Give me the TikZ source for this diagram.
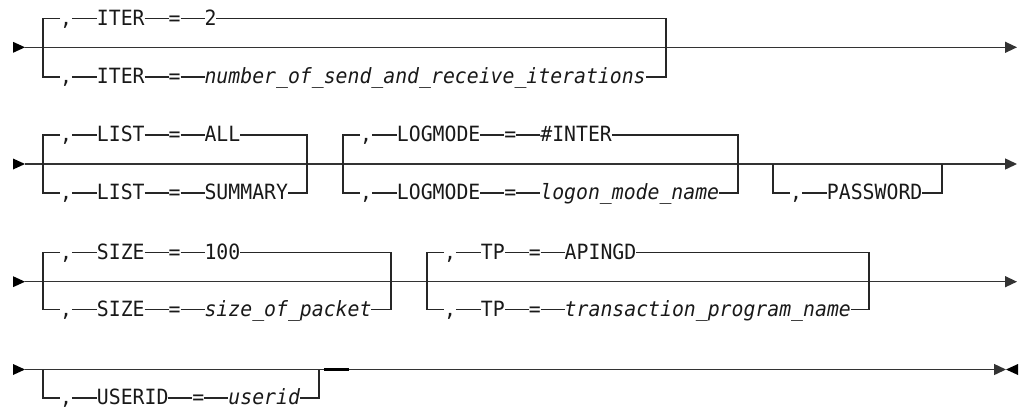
\documentclass[tikz,border=0pt]{standalone}
\usepackage{fontspec}
\newfontfamily\dmono{DejaVu Sans Mono}[FakeStretch=0.943]
\usetikzlibrary{positioning,arrows.meta}
\tikzset{
  tok/.style={inner xsep=0pt, inner ysep=0pt, outer sep=0pt, text height=13.4pt, text depth=0pt, font=\dmono\fontsize{21pt}{23pt}\selectfont, text=black!90},
  ln/.style={draw=black!85, line width=1.1pt},
  mainln/.style={draw=black!80, line width=1.4pt},
  endtip/.style={-{Triangle[length=12pt,width=11pt]}},
}
% branch: name, left x, y, keyword, value
\newcommand{\rrbranch}[5]{%
  \coordinate (#1-l) at (#2,#3);
  \node[tok] (#1-c) at (#2+23,#3) {,};
  \node[tok, right=25pt of #1-c] (#1-k) {#4};
  \node[tok, right=24pt of #1-k] (#1-e) {=};
  \node[tok, right=24pt of #1-e] (#1-v) {#5};
  \draw[ln] (#1-c) -- (#1-k) (#1-k) -- (#1-e) (#1-e) -- (#1-v);
}
% keyword-only branch: name, left x, y, keyword
\newcommand{\rrkbranch}[4]{%
  \coordinate (#1-l) at (#2,#3);
  \node[tok] (#1-c) at (#2+23,#3) {,};
  \node[tok, right=25pt of #1-c] (#1-k) {#4};
  \draw[ln] (#1-c) -- (#1-k);
}
\begin{document}
\begin{tikzpicture}[x=1pt,y=-1pt]
\useasboundingbox (0,0) rectangle (1024,410);

% ---------- Row 1 ----------
\coordinate (s1) at (25,47.3);
\coordinate (e1) at (1017,47.3);
\fill[black] (s1) -- ++(-12,-5.5) -- ++(0,11) -- cycle;
\draw[mainln,endtip] (s1) -- (e1);
\rrbranch{it1}{43}{18.5}{ITER}{2}
\rrbranch{it2}{43}{77}{ITER}{\itshape number\_of\_send\_and\_receive\_iterations}
\coordinate (it1-r) at (666,18.5);
\coordinate (it2-r) at (666,77);
\draw[ln] (it1-c) -- (it1-l) -- (it2-l) -- (it2-c);
\draw[ln] (it1-v) -- (it1-r) -- (it2-r) -- (it2-v);

% ---------- Row 2 ----------
\coordinate (s2) at (25,164);
\coordinate (e2) at (1017,164);
\fill[black] (s2) -- ++(-12,-5.5) -- ++(0,11) -- cycle;
\draw[mainln,endtip] (s2) -- (e2);
\rrbranch{li1}{43}{135}{LIST}{ALL}
\rrbranch{li2}{43}{193}{LIST}{SUMMARY}
\coordinate (li1-r) at (307,135);
\coordinate (li2-r) at (307,193);
\draw[ln] (li1-c) -- (li1-l) -- (li2-l) -- (li2-c);
\draw[ln] (li1-v) -- (li1-r) -- (li2-r) -- (li2-v);

\rrbranch{lm1}{343}{135}{LOGMODE}{\#INTER}
\rrbranch{lm2}{343}{193}{LOGMODE}{\itshape logon\_mode\_name}
\coordinate (lm1-r) at (738,135);
\coordinate (lm2-r) at (738,193);
\draw[ln] (lm1-c) -- (lm1-l) -- (lm2-l) -- (lm2-c);
\draw[ln] (lm1-v) -- (lm1-r) -- (lm2-r) -- (lm2-v);

\rrkbranch{pw}{773}{193}{PASSWORD}
\coordinate (pw-ml) at (773,164);
\coordinate (pw-mr) at (942,164);
\coordinate (pw-r) at (942,193);
\draw[ln] (pw-ml) -- (pw-l) -- (pw-c);
\draw[ln] (pw-k) -- (pw-r) -- (pw-mr);

% ---------- Row 3 ----------
\coordinate (s3) at (25,281.7);
\coordinate (e3) at (1017,281.7);
\fill[black] (s3) -- ++(-12,-5.5) -- ++(0,11) -- cycle;
\draw[mainln,endtip] (s3) -- (e3);
\rrbranch{sz1}{43}{252.3}{SIZE}{100}
\rrbranch{sz2}{43}{309.3}{SIZE}{\itshape size\_of\_packet}
\coordinate (sz1-r) at (391,252.3);
\coordinate (sz2-r) at (391,309.3);
\draw[ln] (sz1-c) -- (sz1-l) -- (sz2-l) -- (sz2-c);
\draw[ln] (sz1-v) -- (sz1-r) -- (sz2-r) -- (sz2-v);

\rrbranch{tp1}{427}{252.3}{TP}{APINGD}
\rrbranch{tp2}{427}{309.3}{TP}{\itshape transaction\_program\_name}
\coordinate (tp1-r) at (869,252.3);
\coordinate (tp2-r) at (869,309.3);
\draw[ln] (tp1-c) -- (tp1-l) -- (tp2-l) -- (tp2-c);
\draw[ln] (tp1-v) -- (tp1-r) -- (tp2-r) -- (tp2-v);

% ---------- Row 4 ----------
\coordinate (s4) at (25,369.5);
\coordinate (e4) at (1006,369.5);
\fill[black] (s4) -- ++(-12,-5.5) -- ++(0,11) -- cycle;
\draw[mainln,endtip] (s4) -- (e4);
\fill[black] (e4) -- ++(12,-5.5) -- ++(0,11) -- cycle;
\rrbranch{us}{43}{398}{USERID}{\itshape userid}
\coordinate (us-ml) at (43,369.5);
\coordinate (us-mr) at (319,369.5);
\coordinate (us-r) at (319,398);
\draw[ln] (us-ml) -- (us-l) -- (us-c);
\draw[ln] (us-v) -- (us-r) -- (us-mr);
\draw[black, line width=2.4pt] (324,369.3) -- (349,369.3);
\end{tikzpicture}
\end{document}
